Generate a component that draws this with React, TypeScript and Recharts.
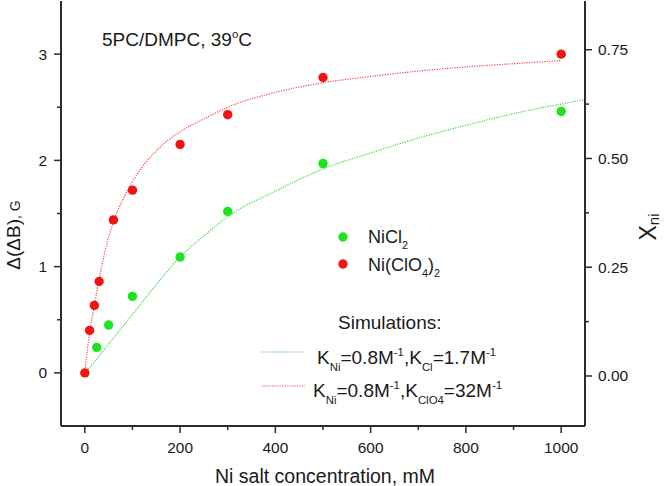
import React from "react";
import {
  ComposedChart,
  Line,
  Scatter,
  XAxis,
  YAxis,
} from "recharts";

// measured points
const niCl2Conc = [25, 50, 100, 200, 300, 500, 1000];
const niCl2Shift = [0.24, 0.45, 0.72, 1.09, 1.52, 1.97, 2.46];

const niClO4Conc = [0, 10, 20, 30, 60, 100, 200, 300, 500, 1000];
const niClO4Shift = [0, 0.4, 0.635, 0.86, 1.44, 1.72, 2.15, 2.43, 2.78, 3.0];

// simulation curves
const simClConc = [0, 25, 50, 100, 150, 200, 250, 300, 400, 500, 600, 700, 800, 900, 1000, 1050];
const simClShift = [0, 0.13, 0.27, 0.55, 0.83, 1.09, 1.29, 1.47, 1.71, 1.92, 2.07, 2.21, 2.33, 2.44, 2.53, 2.57];

const simClO4Conc = [0, 10, 20, 30, 40, 60, 80, 100, 150, 200, 250, 300, 400, 500, 600, 700, 800, 900, 1000];
const simClO4Shift = [0, 0.38, 0.64, 0.88, 1.1, 1.42, 1.63, 1.8, 2.09, 2.27, 2.39, 2.5, 2.64, 2.73, 2.79, 2.84, 2.88, 2.91, 2.94];

const xTicks = [0, 100, 200, 300, 400, 500, 600, 700, 800, 900, 1000];
const yTicks = [0, 0.5, 1, 1.5, 2, 2.5, 3];
const xniTicks = [0, 0.125, 0.25, 0.375, 0.5, 0.625, 0.75];

const toPoints = (xs: number[], ys: number[]) => xs.map((x, i) => ({ x, y: ys[i] }));

const niCl2Data = toPoints(niCl2Conc, niCl2Shift);
const niClO4Data = toPoints(niClO4Conc, niClO4Shift);
const simClData = toPoints(simClConc, simClShift);
const simClO4Data = toPoints(simClO4Conc, simClO4Shift);

const AXIS = "#2b2b2b";
const TEXT = "#1a1a1a";
const FONT = "'Liberation Sans', Arial, sans-serif";
const GREEN = "#1fe31f";
const RED = "#f01414";
const GREEN_LINE = "#3ad83a";
const RED_LINE = "#ff4040";

const BottomTick = (props: any) => {
  const { x, y, payload } = props;
  const v = payload.value;
  const major = v % 200 === 0;
  return (
    <g>
      <line x1={x} x2={x} y1={y} y2={y + (major ? 7 : 4)} stroke={AXIS} strokeWidth={1.5} />
      {major && (
        <text x={x} y={y + 27} textAnchor="middle" fontSize={15.5} fill={TEXT} fontFamily={FONT}>
          {v}
        </text>
      )}
    </g>
  );
};

const TopTick = (props: any) => {
  const { x, y, payload } = props;
  const major = payload.value % 200 === 0;
  return <line x1={x} x2={x} y1={y} y2={y + (major ? 7 : 4)} stroke={AXIS} strokeWidth={1.5} />;
};

const LeftTick = (props: any) => {
  const { x, y, payload } = props;
  const v = payload.value;
  const major = Number.isInteger(v);
  return (
    <g>
      <line x1={x} x2={x - (major ? 7 : 4)} y1={y} y2={y} stroke={AXIS} strokeWidth={1.5} />
      {major && (
        <text x={x - 14} y={y + 5.5} textAnchor="end" fontSize={15.5} fill={TEXT} fontFamily={FONT}>
          {v}
        </text>
      )}
    </g>
  );
};

const RightTick = (props: any) => {
  const { x, y, payload } = props;
  const v = payload.value;
  const major = Math.abs(v / 0.25 - Math.round(v / 0.25)) < 1e-6;
  return (
    <g>
      <line x1={x} x2={x + (major ? 7 : 4)} y1={y} y2={y} stroke={AXIS} strokeWidth={1.5} />
      {major && (
        <text x={x + 13} y={y + 5.5} textAnchor="start" fontSize={15.5} fill={TEXT} fontFamily={FONT}>
          {v.toFixed(2)}
        </text>
      )}
    </g>
  );
};

type Part = { t: string; k?: "sub" | "sup" };

// text with sub/superscripts
const Rich = ({ x, y, parts, size }: { x: number; y: number; parts: Part[]; size: number }) => {
  let level = 0;
  const small = size * 0.6;
  return (
    <text x={x} y={y} fontSize={size} fill={TEXT} fontFamily={FONT}>
      {parts.map((p, i) => {
        const target = p.k === "sub" ? size * 0.35 : p.k === "sup" ? -size * 0.4 : 0;
        const dy = target - level;
        level = target;
        return (
          <tspan key={i} dy={dy} fontSize={p.k ? small : size}>
            {p.t}
          </tspan>
        );
      })}
    </text>
  );
};

export default function App() {
  return (
    <div style={{ position: "absolute", left: 0, top: 0, width: 666, height: 486, background: "#fff" }}>
      <ComposedChart
        width={666}
        height={486}
        margin={{ top: 1, right: 0, bottom: 0, left: 0 }}
      >
        <XAxis
          dataKey="x"
          type="number"
          domain={[-50, 1050]}
          ticks={xTicks}
          interval={0}
          allowDataOverflow
          height={60}
          tickSize={0}
          tickMargin={0}
          tick={<BottomTick />}
          axisLine={{ stroke: AXIS, strokeWidth: 2 }}
        />
        <XAxis
          xAxisId="top"
          orientation="top"
          dataKey="x"
          type="number"
          domain={[-50, 1050]}
          ticks={xTicks}
          interval={0}
          allowDataOverflow
          height={0}
          tickSize={0}
          tickMargin={0}
          tick={<TopTick />}
          axisLine={{ stroke: AXIS, strokeWidth: 2 }}
        />
        <YAxis
          type="number"
          domain={[-0.5, 3.5]}
          ticks={yTicks}
          interval={0}
          allowDataOverflow
          width={61}
          tickSize={0}
          tickMargin={0}
          tick={<LeftTick />}
          axisLine={{ stroke: AXIS, strokeWidth: 2 }}
        />
        <YAxis
          yAxisId="right"
          orientation="right"
          type="number"
          domain={[-0.115, 0.862]}
          ticks={xniTicks}
          interval={0}
          allowDataOverflow
          width={81}
          tickSize={0}
          tickMargin={0}
          tick={<RightTick />}
          axisLine={{ stroke: AXIS, strokeWidth: 2 }}
        />
        <Line
          data={simClData}
          dataKey="y"
          type="monotone"
          stroke={GREEN_LINE}
          strokeWidth={1.2}
          strokeDasharray="1.2 1.3"
          dot={false}
          isAnimationActive={false}
        />
        <Line
          data={simClO4Data}
          dataKey="y"
          type="monotone"
          stroke={RED_LINE}
          strokeWidth={1.2}
          strokeDasharray="1.2 1.3"
          dot={false}
          isAnimationActive={false}
        />
        <Scatter
          data={niCl2Data}
          dataKey="y"
          fill={GREEN}
          isAnimationActive={false}
          shape={(p: any) => <circle cx={p.cx} cy={p.cy} r={4.7} fill={GREEN} />}
        />
        <Scatter
          data={niClO4Data}
          dataKey="y"
          fill={RED}
          isAnimationActive={false}
          shape={(p: any) => <circle cx={p.cx} cy={p.cy} r={4.7} fill={RED} />}
        />
      </ComposedChart>

      <svg
        width={666}
        height={486}
        style={{ position: "absolute", left: 0, top: 0, pointerEvents: "none" }}
      >
        <Rich x={102} y={46} size={19} parts={[{ t: "5PC/DMPC, 39" }, { t: "o", k: "sup" }, { t: "C" }]} />

        <circle cx={343} cy={237} r={4.7} fill={GREEN} />
        <Rich x={368} y={243} size={18} parts={[{ t: "NiCl" }, { t: "2", k: "sub" }]} />
        <circle cx={343} cy={264} r={4.7} fill={RED} />
        <Rich
          x={368}
          y={271}
          size={18}
          parts={[{ t: "Ni(ClO" }, { t: "4", k: "sub" }, { t: ")" }, { t: "2", k: "sub" }]}
        />

        <text x={338} y={329} fontSize={19} fill={TEXT} fontFamily={FONT}>
          Simulations:
        </text>
        <line x1={262} x2={305} y1={352} y2={352} stroke={GREEN_LINE} strokeWidth={1.2} strokeDasharray="1.2 1.3" />
        <Rich
          x={317}
          y={364}
          size={19}
          parts={[
            { t: "K" },
            { t: "Ni", k: "sub" },
            { t: "=0.8M" },
            { t: "-1", k: "sup" },
            { t: ",K" },
            { t: "Cl", k: "sub" },
            { t: "=1.7M" },
            { t: "-1", k: "sup" },
          ]}
        />
        <line x1={262} x2={305} y1={386} y2={386} stroke={RED_LINE} strokeWidth={1.2} strokeDasharray="1.2 1.3" />
        <Rich
          x={313}
          y={397}
          size={19}
          parts={[
            { t: "K" },
            { t: "Ni", k: "sub" },
            { t: "=0.8M" },
            { t: "-1", k: "sup" },
            { t: ",K" },
            { t: "ClO4", k: "sub" },
            { t: "=32M" },
            { t: "-1", k: "sup" },
          ]}
        />

        <text x={325} y={483} textAnchor="middle" fontSize={19.5} fill={TEXT} fontFamily={FONT}>
          Ni salt concentration, mM
        </text>

        <text transform="translate(20 235) rotate(-90)" textAnchor="middle" fill={TEXT} fontFamily={FONT} fontSize={19}>
          Δ(ΔB)<tspan fontSize={14}>, G</tspan>
        </text>

        <text transform="translate(656 227) rotate(-90)" textAnchor="middle" fill={TEXT} fontFamily={FONT} fontSize={23}>
          X<tspan dy={3} fontSize={15}>ni</tspan>
        </text>
      </svg>
    </div>
  );
}
